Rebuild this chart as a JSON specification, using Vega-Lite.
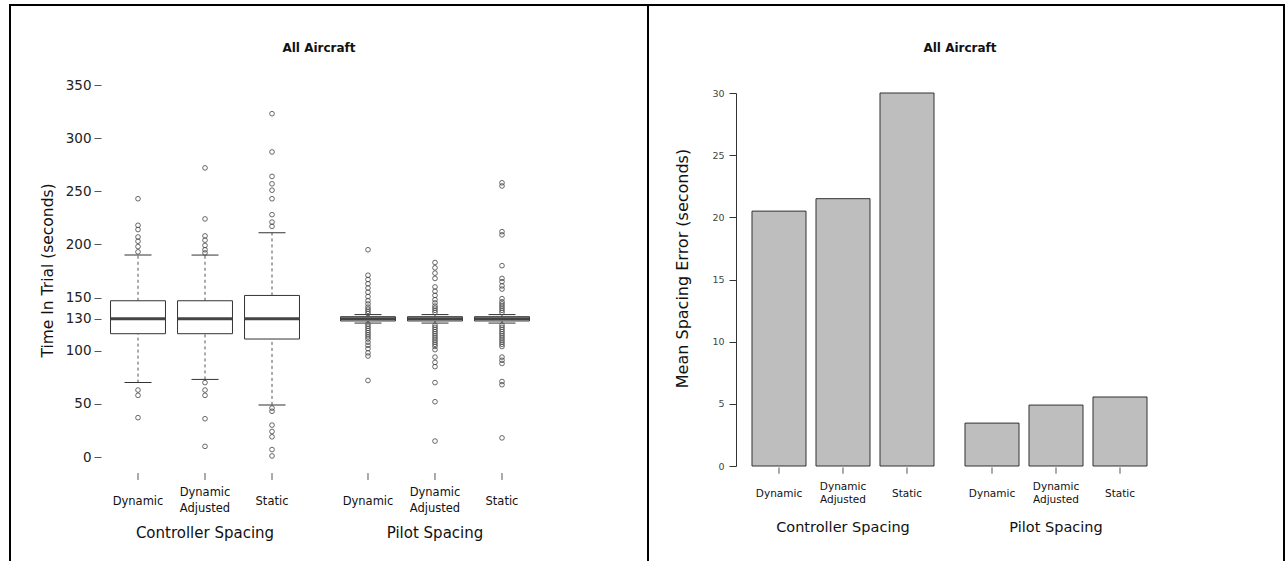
{
  "$schema": "https://vega.github.io/schema/vega-lite/v6.json",
  "padding": {"left": 9, "top": 4, "right": 0, "bottom": 0},
  "spacing": 0,
  "bounds": "flush",
  "background": "white",
  "resolve": {"scale": {"x": "independent", "y": "independent", "xOffset": "independent"}},
  "config": {
    "view": {"stroke": "#000", "strokeWidth": 2},
    "font": "DejaVu Sans",
    "axis": {"grid": false}
  },
  "datasets": {
    "boxes": [
      {"group": "Controller Spacing", "type": "Dynamic", "lo": 70, "q1": 116, "med": 130, "q3": 147, "hi": 190},
      {"group": "Controller Spacing", "type": "Dynamic Adjusted", "lo": 73, "q1": 116, "med": 130, "q3": 147, "hi": 190},
      {"group": "Controller Spacing", "type": "Static", "lo": 49, "q1": 111, "med": 130, "q3": 152, "hi": 211},
      {"group": "Pilot Spacing", "type": "Dynamic", "lo": 126, "q1": 128, "med": 130, "q3": 132, "hi": 134},
      {"group": "Pilot Spacing", "type": "Dynamic Adjusted", "lo": 126, "q1": 128, "med": 130, "q3": 132, "hi": 134},
      {"group": "Pilot Spacing", "type": "Static", "lo": 126, "q1": 128, "med": 130, "q3": 132, "hi": 134}
    ],
    "outliers": [
      {"group": "Controller Spacing", "type": "Dynamic", "v": 243},
      {"group": "Controller Spacing", "type": "Dynamic", "v": 218},
      {"group": "Controller Spacing", "type": "Dynamic", "v": 214},
      {"group": "Controller Spacing", "type": "Dynamic", "v": 207},
      {"group": "Controller Spacing", "type": "Dynamic", "v": 203},
      {"group": "Controller Spacing", "type": "Dynamic", "v": 198},
      {"group": "Controller Spacing", "type": "Dynamic", "v": 193},
      {"group": "Controller Spacing", "type": "Dynamic", "v": 63},
      {"group": "Controller Spacing", "type": "Dynamic", "v": 58},
      {"group": "Controller Spacing", "type": "Dynamic", "v": 37},
      {"group": "Controller Spacing", "type": "Dynamic Adjusted", "v": 272},
      {"group": "Controller Spacing", "type": "Dynamic Adjusted", "v": 224},
      {"group": "Controller Spacing", "type": "Dynamic Adjusted", "v": 208},
      {"group": "Controller Spacing", "type": "Dynamic Adjusted", "v": 204},
      {"group": "Controller Spacing", "type": "Dynamic Adjusted", "v": 199},
      {"group": "Controller Spacing", "type": "Dynamic Adjusted", "v": 195},
      {"group": "Controller Spacing", "type": "Dynamic Adjusted", "v": 192},
      {"group": "Controller Spacing", "type": "Dynamic Adjusted", "v": 70},
      {"group": "Controller Spacing", "type": "Dynamic Adjusted", "v": 63},
      {"group": "Controller Spacing", "type": "Dynamic Adjusted", "v": 58},
      {"group": "Controller Spacing", "type": "Dynamic Adjusted", "v": 36},
      {"group": "Controller Spacing", "type": "Dynamic Adjusted", "v": 10},
      {"group": "Controller Spacing", "type": "Static", "v": 323},
      {"group": "Controller Spacing", "type": "Static", "v": 287},
      {"group": "Controller Spacing", "type": "Static", "v": 264},
      {"group": "Controller Spacing", "type": "Static", "v": 257},
      {"group": "Controller Spacing", "type": "Static", "v": 251},
      {"group": "Controller Spacing", "type": "Static", "v": 243},
      {"group": "Controller Spacing", "type": "Static", "v": 228},
      {"group": "Controller Spacing", "type": "Static", "v": 221},
      {"group": "Controller Spacing", "type": "Static", "v": 217},
      {"group": "Controller Spacing", "type": "Static", "v": 46},
      {"group": "Controller Spacing", "type": "Static", "v": 43},
      {"group": "Controller Spacing", "type": "Static", "v": 30},
      {"group": "Controller Spacing", "type": "Static", "v": 24},
      {"group": "Controller Spacing", "type": "Static", "v": 19},
      {"group": "Controller Spacing", "type": "Static", "v": 7},
      {"group": "Controller Spacing", "type": "Static", "v": 1},
      {"group": "Pilot Spacing", "type": "Dynamic", "v": 195},
      {"group": "Pilot Spacing", "type": "Dynamic", "v": 171},
      {"group": "Pilot Spacing", "type": "Dynamic", "v": 167},
      {"group": "Pilot Spacing", "type": "Dynamic", "v": 163},
      {"group": "Pilot Spacing", "type": "Dynamic", "v": 159},
      {"group": "Pilot Spacing", "type": "Dynamic", "v": 155},
      {"group": "Pilot Spacing", "type": "Dynamic", "v": 151},
      {"group": "Pilot Spacing", "type": "Dynamic", "v": 147},
      {"group": "Pilot Spacing", "type": "Dynamic", "v": 144},
      {"group": "Pilot Spacing", "type": "Dynamic", "v": 141},
      {"group": "Pilot Spacing", "type": "Dynamic", "v": 139},
      {"group": "Pilot Spacing", "type": "Dynamic", "v": 137},
      {"group": "Pilot Spacing", "type": "Dynamic", "v": 135},
      {"group": "Pilot Spacing", "type": "Dynamic", "v": 125},
      {"group": "Pilot Spacing", "type": "Dynamic", "v": 123},
      {"group": "Pilot Spacing", "type": "Dynamic", "v": 121},
      {"group": "Pilot Spacing", "type": "Dynamic", "v": 119},
      {"group": "Pilot Spacing", "type": "Dynamic", "v": 117},
      {"group": "Pilot Spacing", "type": "Dynamic", "v": 115},
      {"group": "Pilot Spacing", "type": "Dynamic", "v": 113},
      {"group": "Pilot Spacing", "type": "Dynamic", "v": 111},
      {"group": "Pilot Spacing", "type": "Dynamic", "v": 108},
      {"group": "Pilot Spacing", "type": "Dynamic", "v": 105},
      {"group": "Pilot Spacing", "type": "Dynamic", "v": 102},
      {"group": "Pilot Spacing", "type": "Dynamic", "v": 98},
      {"group": "Pilot Spacing", "type": "Dynamic", "v": 95},
      {"group": "Pilot Spacing", "type": "Dynamic", "v": 72},
      {"group": "Pilot Spacing", "type": "Dynamic Adjusted", "v": 183},
      {"group": "Pilot Spacing", "type": "Dynamic Adjusted", "v": 178},
      {"group": "Pilot Spacing", "type": "Dynamic Adjusted", "v": 173},
      {"group": "Pilot Spacing", "type": "Dynamic Adjusted", "v": 168},
      {"group": "Pilot Spacing", "type": "Dynamic Adjusted", "v": 160},
      {"group": "Pilot Spacing", "type": "Dynamic Adjusted", "v": 156},
      {"group": "Pilot Spacing", "type": "Dynamic Adjusted", "v": 152},
      {"group": "Pilot Spacing", "type": "Dynamic Adjusted", "v": 148},
      {"group": "Pilot Spacing", "type": "Dynamic Adjusted", "v": 145},
      {"group": "Pilot Spacing", "type": "Dynamic Adjusted", "v": 142},
      {"group": "Pilot Spacing", "type": "Dynamic Adjusted", "v": 140},
      {"group": "Pilot Spacing", "type": "Dynamic Adjusted", "v": 138},
      {"group": "Pilot Spacing", "type": "Dynamic Adjusted", "v": 136},
      {"group": "Pilot Spacing", "type": "Dynamic Adjusted", "v": 124},
      {"group": "Pilot Spacing", "type": "Dynamic Adjusted", "v": 122},
      {"group": "Pilot Spacing", "type": "Dynamic Adjusted", "v": 120},
      {"group": "Pilot Spacing", "type": "Dynamic Adjusted", "v": 118},
      {"group": "Pilot Spacing", "type": "Dynamic Adjusted", "v": 116},
      {"group": "Pilot Spacing", "type": "Dynamic Adjusted", "v": 114},
      {"group": "Pilot Spacing", "type": "Dynamic Adjusted", "v": 112},
      {"group": "Pilot Spacing", "type": "Dynamic Adjusted", "v": 110},
      {"group": "Pilot Spacing", "type": "Dynamic Adjusted", "v": 108},
      {"group": "Pilot Spacing", "type": "Dynamic Adjusted", "v": 106},
      {"group": "Pilot Spacing", "type": "Dynamic Adjusted", "v": 104},
      {"group": "Pilot Spacing", "type": "Dynamic Adjusted", "v": 101},
      {"group": "Pilot Spacing", "type": "Dynamic Adjusted", "v": 94},
      {"group": "Pilot Spacing", "type": "Dynamic Adjusted", "v": 89},
      {"group": "Pilot Spacing", "type": "Dynamic Adjusted", "v": 85},
      {"group": "Pilot Spacing", "type": "Dynamic Adjusted", "v": 70},
      {"group": "Pilot Spacing", "type": "Dynamic Adjusted", "v": 52},
      {"group": "Pilot Spacing", "type": "Dynamic Adjusted", "v": 15},
      {"group": "Pilot Spacing", "type": "Static", "v": 258},
      {"group": "Pilot Spacing", "type": "Static", "v": 255},
      {"group": "Pilot Spacing", "type": "Static", "v": 212},
      {"group": "Pilot Spacing", "type": "Static", "v": 209},
      {"group": "Pilot Spacing", "type": "Static", "v": 180},
      {"group": "Pilot Spacing", "type": "Static", "v": 168},
      {"group": "Pilot Spacing", "type": "Static", "v": 165},
      {"group": "Pilot Spacing", "type": "Static", "v": 161},
      {"group": "Pilot Spacing", "type": "Static", "v": 158},
      {"group": "Pilot Spacing", "type": "Static", "v": 149},
      {"group": "Pilot Spacing", "type": "Static", "v": 146},
      {"group": "Pilot Spacing", "type": "Static", "v": 144},
      {"group": "Pilot Spacing", "type": "Static", "v": 142},
      {"group": "Pilot Spacing", "type": "Static", "v": 140},
      {"group": "Pilot Spacing", "type": "Static", "v": 138},
      {"group": "Pilot Spacing", "type": "Static", "v": 136},
      {"group": "Pilot Spacing", "type": "Static", "v": 124},
      {"group": "Pilot Spacing", "type": "Static", "v": 122},
      {"group": "Pilot Spacing", "type": "Static", "v": 120},
      {"group": "Pilot Spacing", "type": "Static", "v": 118},
      {"group": "Pilot Spacing", "type": "Static", "v": 116},
      {"group": "Pilot Spacing", "type": "Static", "v": 114},
      {"group": "Pilot Spacing", "type": "Static", "v": 112},
      {"group": "Pilot Spacing", "type": "Static", "v": 110},
      {"group": "Pilot Spacing", "type": "Static", "v": 108},
      {"group": "Pilot Spacing", "type": "Static", "v": 106},
      {"group": "Pilot Spacing", "type": "Static", "v": 104},
      {"group": "Pilot Spacing", "type": "Static", "v": 94},
      {"group": "Pilot Spacing", "type": "Static", "v": 91},
      {"group": "Pilot Spacing", "type": "Static", "v": 88},
      {"group": "Pilot Spacing", "type": "Static", "v": 71},
      {"group": "Pilot Spacing", "type": "Static", "v": 68},
      {"group": "Pilot Spacing", "type": "Static", "v": 18}
    ],
    "bars": [
      {"group": "Controller Spacing", "type": "Dynamic", "mean": 20.5},
      {"group": "Controller Spacing", "type": "Dynamic Adjusted", "mean": 21.5},
      {"group": "Controller Spacing", "type": "Static", "mean": 30},
      {"group": "Pilot Spacing", "type": "Dynamic", "mean": 3.45},
      {"group": "Pilot Spacing", "type": "Dynamic Adjusted", "mean": 4.9},
      {"group": "Pilot Spacing", "type": "Static", "mean": 5.55}
    ]
  },
  "hconcat": [
    {
      "width": 638,
      "height": 570,
      "title": {"text": "All Aircraft", "offset": -55, "baseline": "middle", "fontSize": 12, "fontWeight": "bold", "dx": -10, "color": "#111"},
      "encoding": {
        "x": {
          "field": "group", "type": "nominal",
          "scale": {"range": [94.5, 525.5], "paddingInner": 0.126, "paddingOuter": 0},
          "axis": {"title": null, "orient": "bottom", "offset": -80, "domain": false, "ticks": false, "tickSize": 0, "labelPadding": 37, "labelBaseline": "middle", "labelAngle": 0, "labelFontSize": 15, "labelColor": "#111"}
        },
        "xOffset": {"field": "type", "type": "nominal", "scale": {"paddingInner": 0.18, "paddingOuter": 0.09}}
      },
      "layer": [
        {
          "data": {"name": "boxes"},
          "mark": {"type": "rule", "strokeDash": [3, 3], "color": "#555", "strokeWidth": 1},
          "encoding": {
            "y": {
              "field": "q3", "type": "quantitative",
              "scale": {"domain": [0, 350], "range": [452, 80], "nice": false, "zero": false},
              "axis": {"title": "Time In Trial (seconds)", "values": [0, 50, 100, 130, 150, 200, 250, 300, 350], "offset": -91, "domain": false, "ticks": true, "tickSize": 7, "tickColor": "#555", "labelPadding": 3, "labelFontSize": 13.5, "labelColor": "#222", "labelOverlap": false, "titleFontSize": 15.5, "titleFontWeight": "normal", "titleColor": "#111", "titleX": -54, "titleY": 265, "titleAngle": -90, "titleAlign": "center", "titleBaseline": "middle"}
            },
            "y2": {"field": "hi"}
          }
        },
        {
          "data": {"name": "boxes"},
          "mark": {"type": "rule", "strokeDash": [3, 3], "color": "#555", "strokeWidth": 1},
          "encoding": {
            "y": {"field": "lo", "type": "quantitative"},
            "y2": {"field": "q1"}
          }
        },
        {
          "data": {"name": "boxes"},
          "mark": {"type": "bar", "fill": "white", "stroke": "#333", "strokeWidth": 1},
          "encoding": {
            "y": {"field": "q1", "type": "quantitative"},
            "y2": {"field": "q3"}
          }
        },
        {
          "data": {"name": "boxes"},
          "mark": {"type": "tick", "size": 27, "thickness": 1, "color": "#333", "opacity": 1},
          "encoding": {
            "y": {"field": "hi", "type": "quantitative"}
          }
        },
        {
          "data": {"name": "boxes"},
          "mark": {"type": "tick", "size": 27, "thickness": 1, "color": "#333", "opacity": 1},
          "encoding": {
            "y": {"field": "lo", "type": "quantitative"}
          }
        },
        {
          "data": {"name": "boxes"},
          "mark": {"type": "tick", "size": 55, "thickness": 3, "color": "#444", "opacity": 1},
          "encoding": {
            "y": {"field": "med", "type": "quantitative"}
          }
        },
        {
          "data": {"name": "outliers"},
          "mark": {"type": "point", "shape": "circle", "filled": false, "size": 22, "stroke": "#444", "strokeWidth": 0.8, "opacity": 1},
          "encoding": {
            "y": {"field": "v", "type": "quantitative"}
          }
        },
        {
          "data": {"name": "boxes"},
          "transform": [{"filter": "datum.type !== 'Dynamic Adjusted'"}],
          "mark": {"type": "text", "fontSize": 11.5, "baseline": "middle", "align": "center", "color": "#111"},
          "encoding": {
            "y": {"datum": -42.3},
            "text": {"field": "type"}
          }
        },
        {
          "data": {"name": "boxes"},
          "transform": [{"filter": "datum.type === 'Dynamic Adjusted'"}],
          "mark": {"type": "text", "lineBreak": " ", "fontSize": 11.5, "lineHeight": 16, "baseline": "middle", "align": "center", "color": "#111"},
          "encoding": {
            "y": {"datum": -33.9},
            "text": {"field": "type"}
          }
        },
        {
          "data": {"name": "boxes"},
          "mark": {"type": "rule", "color": "#555", "strokeWidth": 1},
          "encoding": {
            "y": {"datum": -15.1},
            "y2": {"datum": -21.6}
          }
        }
      ]
    },
    {
      "width": 636,
      "height": 570,
      "title": {"text": "All Aircraft", "offset": -55, "baseline": "middle", "fontSize": 12, "fontWeight": "bold", "dx": -6, "color": "#111"},
      "data": {"name": "bars"},
      "encoding": {
        "x": {
          "field": "group", "type": "nominal",
          "scale": {"range": [99, 504], "paddingInner": 0.0986, "paddingOuter": 0},
          "axis": {"title": null, "orient": "bottom", "offset": -60, "domain": false, "ticks": false, "tickSize": 0, "labelPadding": 12, "labelBaseline": "middle", "labelAngle": 0, "labelFontSize": 14.5, "labelColor": "#111"}
        },
        "xOffset": {"field": "type", "type": "nominal", "scale": {"paddingInner": 0.156, "paddingOuter": 0.078}}
      },
      "layer": [
        {
          "mark": {"type": "bar", "fill": "#bebebe", "stroke": "#333", "strokeWidth": 1},
          "encoding": {
            "y": {
              "field": "mean", "type": "quantitative",
              "scale": {"domain": [0, 30], "range": [461, 88], "nice": false},
              "axis": {"title": "Mean Spacing Error (seconds)", "values": [0, 5, 10, 15, 20, 25, 30], "offset": -88, "domain": true, "domainColor": "#333", "domainWidth": 1, "ticks": true, "tickSize": 7, "tickColor": "#333", "labelPadding": 5, "labelFontSize": 9.5, "labelColor": "#444", "labelOverlap": false, "titleFontSize": 16, "titleFontWeight": "normal", "titleColor": "#111", "titleX": -54, "titleY": 263, "titleAngle": -90, "titleAlign": "center", "titleBaseline": "middle"}
            }
          }
        },
        {
          "transform": [{"filter": "datum.type !== 'Dynamic Adjusted'"}],
          "mark": {"type": "text", "fontSize": 10.5, "baseline": "middle", "align": "center", "color": "#111"},
          "encoding": {
            "y": {"datum": -2.25},
            "text": {"field": "type"}
          }
        },
        {
          "transform": [{"filter": "datum.type === 'Dynamic Adjusted'"}],
          "mark": {"type": "text", "lineBreak": " ", "fontSize": 10.5, "lineHeight": 13, "baseline": "middle", "align": "center", "color": "#111"},
          "encoding": {
            "y": {"datum": -1.69},
            "text": {"field": "type"}
          }
        },
        {
          "mark": {"type": "rule", "color": "#555", "strokeWidth": 1},
          "encoding": {
            "y": {"datum": -0.12},
            "y2": {"datum": -0.62}
          }
        }
      ]
    }
  ]
}
